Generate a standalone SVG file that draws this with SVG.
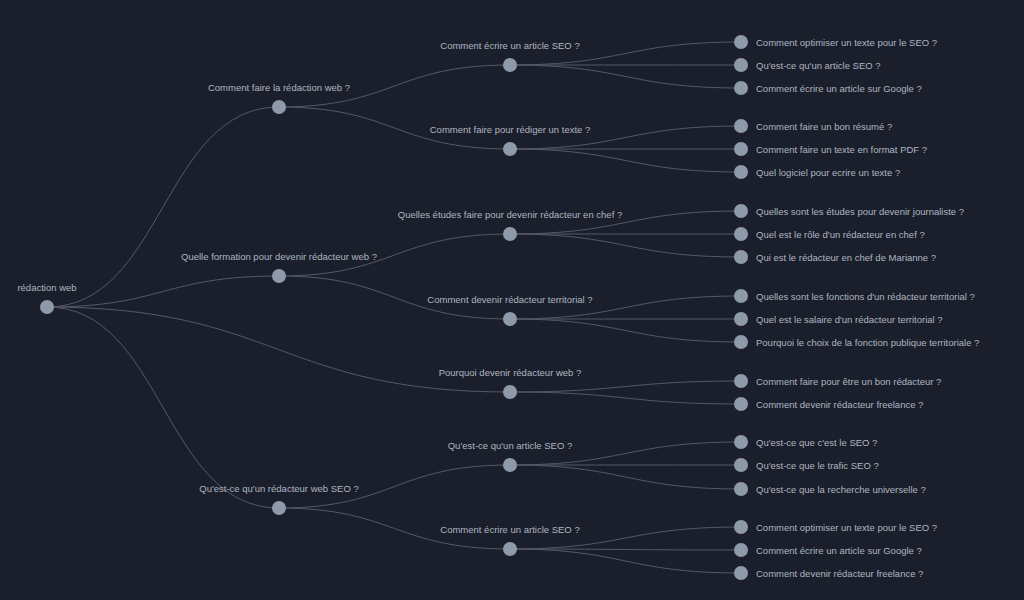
<svg xmlns="http://www.w3.org/2000/svg" width="1024" height="600" viewBox="0 0 1024 600">
<style>
.bg{fill:#1a1f2b}
.link{fill:none;stroke:#535a68;stroke-width:1}
.node circle{fill:#8e99aa}
.node text{font-family:"Liberation Sans",Arial,sans-serif;font-size:9.5px;fill:#aeb6c2}
.c{text-anchor:middle}
.l{text-anchor:start;dominant-baseline:central}
</style>
<rect class="bg" x="0" y="0" width="1024" height="600"/>
<g id="links">
<path class="link" d="M47,307C163,307 163,107 279,107"/>
<path class="link" d="M47,307C163,307 163,276 279,276"/>
<path class="link" d="M47,307C278.5,307 278.5,392 510,392"/>
<path class="link" d="M47,307C163,307 163,508 279,508"/>
<path class="link" d="M279,107C394.5,107 394.5,65 510,65"/>
<path class="link" d="M279,107C394.5,107 394.5,149 510,149"/>
<path class="link" d="M279,276C394.5,276 394.5,234 510,234"/>
<path class="link" d="M279,276C394.5,276 394.5,319 510,319"/>
<path class="link" d="M279,508C394.5,508 394.5,465 510,465"/>
<path class="link" d="M279,508C394.5,508 394.5,549 510,549"/>
<path class="link" d="M510,65C625.5,65 625.5,42 741,42"/>
<path class="link" d="M510,65C625.5,65 625.5,65 741,65"/>
<path class="link" d="M510,65C625.5,65 625.5,88 741,88"/>
<path class="link" d="M510,149C625.5,149 625.5,126 741,126"/>
<path class="link" d="M510,149C625.5,149 625.5,149 741,149"/>
<path class="link" d="M510,149C625.5,149 625.5,172 741,172"/>
<path class="link" d="M510,234C625.5,234 625.5,211 741,211"/>
<path class="link" d="M510,234C625.5,234 625.5,234 741,234"/>
<path class="link" d="M510,234C625.5,234 625.5,257 741,257"/>
<path class="link" d="M510,319C625.5,319 625.5,296 741,296"/>
<path class="link" d="M510,319C625.5,319 625.5,319 741,319"/>
<path class="link" d="M510,319C625.5,319 625.5,342 741,342"/>
<path class="link" d="M510,392C625.5,392 625.5,381 741,381"/>
<path class="link" d="M510,392C625.5,392 625.5,404 741,404"/>
<path class="link" d="M510,465C625.5,465 625.5,442 741,442"/>
<path class="link" d="M510,465C625.5,465 625.5,465 741,465"/>
<path class="link" d="M510,465C625.5,465 625.5,489 741,489"/>
<path class="link" d="M510,549C625.5,549 625.5,527 741,527"/>
<path class="link" d="M510,549C625.5,549 625.5,550 741,550"/>
<path class="link" d="M510,549C625.5,549 625.5,573 741,573"/>
</g>
<g id="n-root" class="node"><circle cx="47" cy="307" r="7"/><text class="c" x="47" y="291">rédaction web</text></g>
<g id="n-1" class="node"><circle cx="279" cy="107" r="7"/><text class="c" x="279" y="91">Comment faire la rédaction web ?</text></g>
<g id="n-2" class="node"><circle cx="279" cy="276" r="7"/><text class="c" x="279" y="260">Quelle formation pour devenir rédacteur web ?</text></g>
<g id="n-3" class="node"><circle cx="279" cy="508" r="7"/><text class="c" x="279" y="492">Qu'est-ce qu'un rédacteur web SEO ?</text></g>
<g id="n-1-1" class="node"><circle cx="510" cy="65" r="7"/><text class="c" x="510" y="49">Comment écrire un article SEO ?</text></g>
<g id="n-1-2" class="node"><circle cx="510" cy="149" r="7"/><text class="c" x="510" y="133">Comment faire pour rédiger un texte ?</text></g>
<g id="n-2-1" class="node"><circle cx="510" cy="234" r="7"/><text class="c" x="510" y="218">Quelles études faire pour devenir rédacteur en chef ?</text></g>
<g id="n-2-2" class="node"><circle cx="510" cy="319" r="7"/><text class="c" x="510" y="303">Comment devenir rédacteur territorial ?</text></g>
<g id="n-4" class="node"><circle cx="510" cy="392" r="7"/><text class="c" x="510" y="376">Pourquoi devenir rédacteur web ?</text></g>
<g id="n-3-1" class="node"><circle cx="510" cy="465" r="7"/><text class="c" x="510" y="449">Qu'est-ce qu'un article SEO ?</text></g>
<g id="n-3-2" class="node"><circle cx="510" cy="549" r="7"/><text class="c" x="510" y="533">Comment écrire un article SEO ?</text></g>
<g id="l-1" class="node"><circle cx="741" cy="42" r="7"/><text class="l" x="756" y="42">Comment optimiser un texte pour le SEO ?</text></g>
<g id="l-2" class="node"><circle cx="741" cy="65" r="7"/><text class="l" x="756" y="65">Qu'est-ce qu'un article SEO ?</text></g>
<g id="l-3" class="node"><circle cx="741" cy="88" r="7"/><text class="l" x="756" y="88">Comment écrire un article sur Google ?</text></g>
<g id="l-4" class="node"><circle cx="741" cy="126" r="7"/><text class="l" x="756" y="126">Comment faire un bon résumé ?</text></g>
<g id="l-5" class="node"><circle cx="741" cy="149" r="7"/><text class="l" x="756" y="149">Comment faire un texte en format PDF ?</text></g>
<g id="l-6" class="node"><circle cx="741" cy="172" r="7"/><text class="l" x="756" y="172">Quel logiciel pour ecrire un texte ?</text></g>
<g id="l-7" class="node"><circle cx="741" cy="211" r="7"/><text class="l" x="756" y="211">Quelles sont les études pour devenir journaliste ?</text></g>
<g id="l-8" class="node"><circle cx="741" cy="234" r="7"/><text class="l" x="756" y="234">Quel est le rôle d'un rédacteur en chef ?</text></g>
<g id="l-9" class="node"><circle cx="741" cy="257" r="7"/><text class="l" x="756" y="257">Qui est le rédacteur en chef de Marianne ?</text></g>
<g id="l-10" class="node"><circle cx="741" cy="296" r="7"/><text class="l" x="756" y="296">Quelles sont les fonctions d'un rédacteur territorial ?</text></g>
<g id="l-11" class="node"><circle cx="741" cy="319" r="7"/><text class="l" x="756" y="319">Quel est le salaire d'un rédacteur territorial ?</text></g>
<g id="l-12" class="node"><circle cx="741" cy="342" r="7"/><text class="l" x="756" y="342">Pourquoi le choix de la fonction publique territoriale ?</text></g>
<g id="l-13" class="node"><circle cx="741" cy="381" r="7"/><text class="l" x="756" y="381">Comment faire pour être un bon rédacteur ?</text></g>
<g id="l-14" class="node"><circle cx="741" cy="404" r="7"/><text class="l" x="756" y="404">Comment devenir rédacteur freelance ?</text></g>
<g id="l-15" class="node"><circle cx="741" cy="442" r="7"/><text class="l" x="756" y="442">Qu'est-ce que c'est le SEO ?</text></g>
<g id="l-16" class="node"><circle cx="741" cy="465" r="7"/><text class="l" x="756" y="465">Qu'est-ce que le trafic SEO ?</text></g>
<g id="l-17" class="node"><circle cx="741" cy="489" r="7"/><text class="l" x="756" y="489">Qu'est-ce que la recherche universelle ?</text></g>
<g id="l-18" class="node"><circle cx="741" cy="527" r="7"/><text class="l" x="756" y="527">Comment optimiser un texte pour le SEO ?</text></g>
<g id="l-19" class="node"><circle cx="741" cy="550" r="7"/><text class="l" x="756" y="550">Comment écrire un article sur Google ?</text></g>
<g id="l-20" class="node"><circle cx="741" cy="573" r="7"/><text class="l" x="756" y="573">Comment devenir rédacteur freelance ?</text></g>
</svg>
